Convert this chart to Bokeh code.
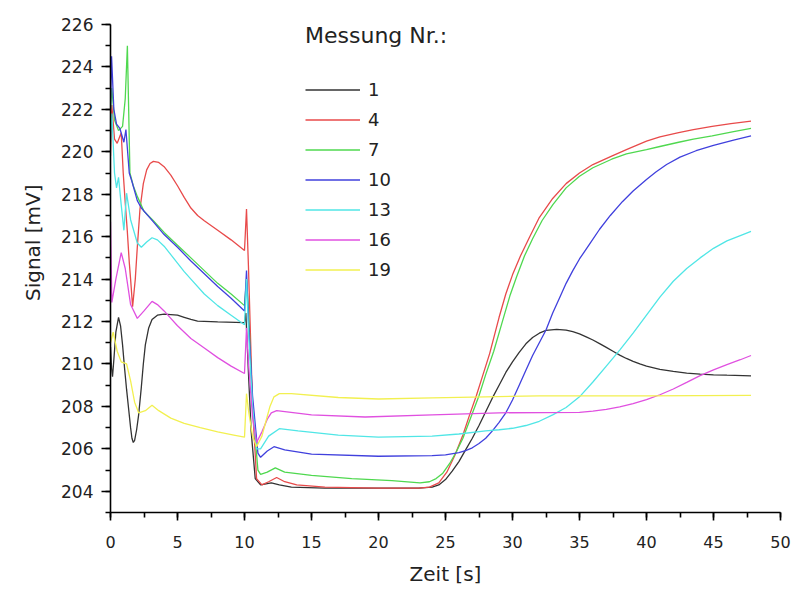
from bokeh.plotting import figure
from bokeh.models import Legend, LegendItem, Range1d, SingleIntervalTicker, Title
from bokeh.embed import file_html
from bokeh.resources import INLINE

# ---- data ----
series_names = ["1", "4", "7", "10", "13", "16", "19"]
series_colors = ["#333333", "#e84a4a", "#4fd84f", "#4040dd", "#50e6e6", "#e050e0", "#f2f050"]

t1 = [0, 0.08, 0.15, 0.25, 0.4, 0.6, 0.75, 0.9, 1.05, 1.2, 1.35, 1.5, 1.6, 1.7, 1.8, 1.95, 2.1, 2.3, 2.45,
      2.6, 2.85, 3.1, 3.5, 4.0, 5.0, 5.5, 6.0, 6.5, 8.0, 10.0, 10.1, 10.3, 10.5, 10.8, 11.2, 12.0, 12.6,
      13.5, 16, 20, 23, 24, 24.5, 25, 25.5, 26, 26.5, 27, 27.5, 28, 28.5, 29, 29.5, 30, 30.5, 31, 31.5, 32,
      32.5, 33.3, 34, 34.5, 35, 35.5, 36, 36.5, 37, 37.5, 38, 38.5, 39, 39.5, 40, 41, 42, 43, 44, 45, 46,
      47.8]
v1 = [210.8, 209.8, 209.4, 210.2, 211.5, 212.2, 211.8, 210.9, 209.8, 208.8, 207.9, 207.0, 206.5, 206.3,
      206.4, 206.9, 207.6, 208.9, 210.0, 210.9, 211.7, 212.1, 212.3, 212.35, 212.3, 212.2, 212.1, 212.02,
      211.98, 211.95, 212.4, 209.5, 206.8, 204.6, 204.3, 204.4, 204.3, 204.2, 204.15, 204.15, 204.15,
      204.2, 204.3, 204.55, 204.95, 205.4, 205.95, 206.5, 207.1, 207.75, 208.4, 209.0, 209.6, 210.1,
      210.55, 210.95, 211.25, 211.45, 211.58, 211.63, 211.6, 211.52, 211.42, 211.28, 211.13, 210.96,
      210.78, 210.6, 210.42, 210.26, 210.12, 210.0, 209.9, 209.75, 209.65, 209.57, 209.52, 209.49, 209.47,
      209.44]

t4 = [0, 0.1, 0.3, 0.5, 0.8, 0.95, 1.1, 1.25, 1.4, 1.5, 1.65, 1.85, 2.0, 2.2, 2.45, 2.7, 2.95, 3.2, 3.6,
      4.0, 4.5, 5.0, 5.5, 6.0, 6.5, 7.0, 8.0, 9.0, 10.0, 10.15, 10.3, 10.6, 10.9, 11.3, 11.8, 12.4, 13.0,
      13.9, 16, 20, 23, 23.8, 24.5, 25.1, 25.7, 26.3, 26.8, 27.3, 27.8, 28.3, 29.0, 29.5, 30.0, 30.6,
      31.25, 32, 33, 34, 35, 36, 37.4, 38.5, 40, 41, 42.4, 43.5, 44.9, 46.3, 47.8]
v4 = [219.8, 222.2, 220.6, 220.4, 220.9, 219.0, 217.6, 216.3, 214.8, 214.0, 212.7, 214.0, 215.5, 217.3,
      218.5, 219.15, 219.45, 219.55, 219.5, 219.3, 218.9, 218.4, 217.85, 217.35, 217.0, 216.75, 216.3,
      215.85, 215.35, 217.3, 214.5, 208.0, 204.6, 204.3, 204.45, 204.65, 204.45, 204.3, 204.2, 204.15,
      204.15, 204.2, 204.4, 204.9, 205.7, 206.65, 207.6, 208.5, 209.5, 210.5, 212.2, 213.3, 214.2, 215.1,
      215.95, 216.9, 217.8, 218.5, 219.0, 219.4, 219.8, 220.1, 220.5, 220.7, 220.9, 221.05, 221.2, 221.33,
      221.45]

t7 = [0, 0.1, 0.3, 0.6, 0.9, 1.1, 1.26, 1.45, 1.7, 2.0, 2.5, 3.2, 4, 5, 6, 7, 8, 9, 10, 10.15, 10.3, 10.6,
      11.0, 11.2, 11.7, 12.3, 13, 15, 18, 21, 23.1, 23.8, 24.3, 24.8, 25.3, 25.8, 26.3, 26.9, 27.5, 28,
      28.6, 29.2, 29.8, 30.3, 30.9, 31.5, 32.2, 33, 34, 35, 36, 37.4, 38.5, 40, 41, 42.4, 43.5, 44.9, 46.5,
      47.8]
v7 = [222.0, 223.0, 221.5, 221.0, 221.2, 222.5, 225.0, 219.0, 218.4, 217.9, 217.2, 216.75, 216.2, 215.6,
      215.0, 214.4, 213.8, 213.3, 212.75, 214.0, 212.5, 208.0, 205.0, 204.8, 204.9, 205.1, 204.9, 204.75,
      204.6, 204.5, 204.4, 204.45, 204.6, 204.85, 205.3, 205.85, 206.5, 207.5, 208.5, 209.5, 210.6, 211.9,
      213.2, 214.1, 215.1, 215.9, 216.75, 217.5, 218.3, 218.85, 219.25, 219.65, 219.9, 220.1, 220.25,
      220.45, 220.6, 220.75, 220.95, 221.1]

t10 = [0, 0.08, 0.25, 0.45, 0.7, 1.0, 1.15, 1.4, 1.6, 2.0, 2.3, 3.2, 4, 5, 6, 7, 8, 9, 10, 10.15, 10.3,
       10.6, 11.0, 11.2, 11.7, 12.2, 13, 15, 20, 24, 25, 26, 26.5, 27, 27.5, 28, 28.5, 29, 29.5, 30, 30.5,
       31, 31.5, 32, 32.5, 33, 33.5, 34, 34.5, 35, 35.7, 36.5, 37.3, 38.2, 39, 40, 40.7, 41.5, 42.5, 43.7,
       45, 46.5, 47.8]
v10 = [222.0, 224.5, 222.0, 221.3, 221.1, 220.45, 221.05, 219.0, 218.6, 217.7, 217.35, 216.7, 216.1,
       215.5, 214.85, 214.25, 213.65, 213.1, 212.5, 214.4, 212.0, 208.5, 205.8, 205.6, 205.9, 206.1, 205.95,
       205.75, 205.65, 205.68, 205.72, 205.82, 205.92, 206.05, 206.25, 206.5, 206.85, 207.25, 207.7, 208.3,
       209.0, 209.7, 210.4, 211.0, 211.6, 212.4, 213.1, 213.8, 214.4, 214.95, 215.6, 216.35, 217.0, 217.65,
       218.15, 218.7, 219.05, 219.4, 219.75, 220.05, 220.3, 220.55, 220.75]

t13 = [0, 0.1, 0.3, 0.45, 0.6, 0.8, 1.0, 1.2, 1.5, 2.0, 2.3, 2.7, 3.1, 3.5, 4, 4.5, 5, 5.5, 6, 7, 8, 9, 10,
       10.15, 10.3, 10.6, 10.9, 11.2, 11.8, 12.6, 14, 17, 20, 24, 26, 28, 29, 30, 31, 32, 33, 34, 35, 36,
       37, 38, 39, 40, 41, 42, 43, 44, 45, 46, 47, 47.8]
v13 = [220.5, 221.8, 219.0, 218.3, 218.8, 217.5, 216.3, 218.05, 216.8, 215.7, 215.5, 215.75, 215.95,
       215.85, 215.55, 215.15, 214.75, 214.35, 214.0, 213.3, 212.75, 212.3, 211.85, 214.0, 211.5, 208.0,
       206.0, 206.0, 206.6, 206.95, 206.85, 206.65, 206.55, 206.6, 206.7, 206.85, 206.9, 206.97, 207.1,
       207.3, 207.6, 207.95, 208.45, 209.15, 209.9, 210.65, 211.45, 212.3, 213.15, 213.9, 214.5, 215.0,
       215.45, 215.8, 216.05, 216.25]

t16 = [0, 0.1, 0.4, 0.8, 1.1, 1.5, 2.0, 2.5, 3.1, 3.5, 4, 4.5, 5, 6, 7, 8, 9, 10, 10.15, 10.3, 10.6, 10.9,
       11.3, 11.7, 12.0, 12.4, 15, 19, 24, 29, 35, 36, 37, 38, 39, 40, 41, 42, 43, 44, 45, 46, 47, 47.8]
v16 = [216.7, 212.9, 214.0, 215.25, 214.5, 212.8, 212.15, 212.5, 212.95, 212.8, 212.5, 212.15, 211.8,
       211.2, 210.75, 210.3, 209.9, 209.55, 211.7, 210.0, 207.5, 206.3, 206.8, 207.4, 207.7, 207.8, 207.6,
       207.5, 207.6, 207.7, 207.72, 207.78, 207.86, 207.98, 208.13, 208.32, 208.55, 208.82, 209.13,
       209.45, 209.72, 209.97, 210.2, 210.4]

t19 = [0, 0.2, 0.5, 0.8, 1.2, 1.5, 1.8, 2.1, 2.6, 3.1, 3.6, 4.5, 5.5, 6.7, 8, 9.2, 10.0, 10.15, 10.3,
       10.6, 10.9, 11.3, 11.6, 11.9, 12.2, 12.6, 13.5, 17, 20, 24, 28, 32, 40, 47.8]
v19 = [211.0, 211.5, 210.6, 210.1, 210.0, 209.2, 208.2, 207.7, 207.8, 208.05, 207.8, 207.45, 207.2,
       207.0, 206.8, 206.65, 206.55, 208.6, 207.8, 206.6, 206.1, 206.6, 207.3, 208.0, 208.45, 208.6, 208.6,
       208.42, 208.35, 208.4, 208.45, 208.5, 208.5, 208.52]

series_t = [t1, t4, t7, t10, t13, t16, t19]
series_v = [v1, v4, v7, v10, v13, v16, v19]

x_title = "Zeit [s]"
y_title = "Signal [mV]"
legend_title = "Messung Nr.:"

FONT = "DejaVu Sans"
TXT = "#222222"

p = figure(width=792, height=588, output_backend="svg", toolbar_location=None,
           x_range=Range1d(0, 50), y_range=Range1d(203, 226),
           min_border_left=110, min_border_right=12, min_border_top=24, min_border_bottom=70)
p.outline_line_color = None
p.xgrid.visible = False
p.ygrid.visible = False
p.background_fill_color = "white"
p.border_fill_color = "white"

p.xaxis.ticker = SingleIntervalTicker(interval=5, num_minor_ticks=2)
p.yaxis.ticker = SingleIntervalTicker(interval=2, num_minor_ticks=2)

for ax in (p.xaxis, p.yaxis):
    ax.axis_line_color = "black"
    ax.axis_line_width = 1.6
    ax.major_tick_line_color = "black"
    ax.major_tick_line_width = 1.6
    ax.minor_tick_line_color = "black"
    ax.minor_tick_line_width = 1.6
    ax.major_tick_in = 0
    ax.minor_tick_in = 0
    ax.minor_tick_out = 5
    ax.major_label_text_font = FONT
    ax.major_label_text_color = TXT
    ax.axis_label_text_font = FONT
    ax.axis_label_text_font_style = "normal"
    ax.axis_label_text_color = TXT

p.xaxis.major_label_text_font_size = "16px"
p.yaxis.major_label_text_font_size = "17px"
p.xaxis.major_tick_out = 8
p.yaxis.major_tick_out = 9
p.xaxis.major_label_standoff = 15
p.yaxis.major_label_standoff = 8
p.xaxis.axis_label = x_title
p.xaxis.axis_label_text_font_size = "20px"
p.xaxis.axis_label_standoff = 11

# y-axis title as a side title, so it can be shifted up like in the reference
ytitle = Title(text=y_title, align="right", offset=160, standoff=28,
               text_font=FONT, text_font_size="20px", text_font_style="normal", text_color=TXT)
p.add_layout(ytitle, "left")

items = []
for name, col, t, v in zip(series_names, series_colors, series_t, series_v):
    r = p.line(t, v, line_color=col, line_width=1.3)
    items.append(LegendItem(label=name, renderers=[r]))

legend = Legend(items=items, title=legend_title, location=(195, 232),
                title_text_font=FONT, title_text_font_size="22px", title_text_font_style="normal",
                title_text_color=TXT, title_standoff=31,
                label_text_font=FONT, label_text_font_size="18px", label_text_color=TXT,
                glyph_width=55, glyph_height=21, label_height=21, spacing=9, label_standoff=8,
                padding=0, margin=0, border_line_color=None, background_fill_alpha=0)
p.add_layout(legend)

open("out.html", "w").write(file_html(p, INLINE))
